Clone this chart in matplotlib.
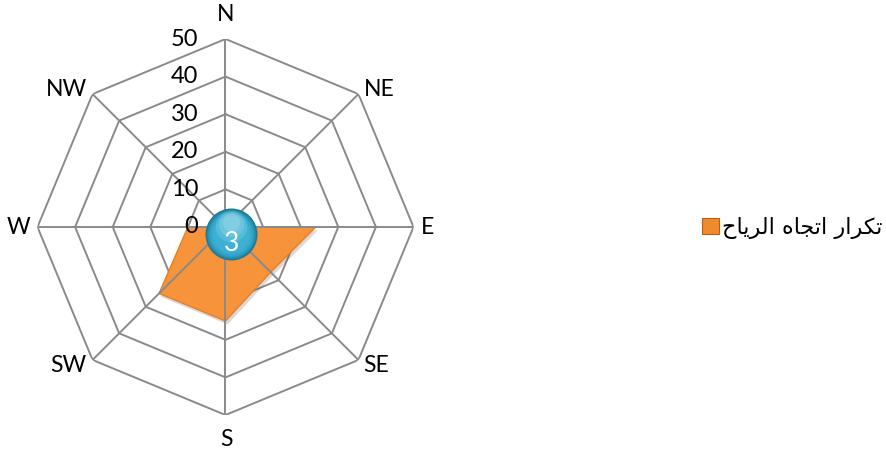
import matplotlib.pyplot as plt
import matplotlib.patheffects as pe
from matplotlib.patches import Patch
from matplotlib.transforms import offset_copy
import numpy as np

# wind direction frequency (radar chart)
directions = ["N", "NE", "E", "SE", "S", "SW", "W", "NW"]
frequency = [3, 0, 24, 17, 25, 25, 10, 0]
ring_values = [0, 10, 20, 30, 40, 50]
series_name = "تكرار اتجاه الرياح"

# matplotlib has no Arabic shaping, so write the joined letter forms in display order
shaped = {
    "تكرار": "\uFE97\uFEDC\uFEAE\uFE8D\uFEAD",
    "اتجاه": "\uFE8D\uFE97\uFEA0\uFE8E\uFEE9",
    "الرياح": "\uFE8D\uFEDF\uFEAE\uFEF3\uFE8E\uFEA1",
}
legend_label = " ".join(shaped[w] for w in series_name.split())[::-1]

W, H = 887, 451
fig = plt.figure(figsize=(W / 100, H / 100), dpi=100)
fig.patch.set_facecolor("white")

cx, cy, R = 225.5, 227, 188
ax = fig.add_axes([(cx - R) / W, (H - cy - R) / H, 2 * R / W, 2 * R / H],
                  projection="polar")
ax.set_theta_zero_location("N")
ax.set_theta_direction(-1)
ax.set_ylim(0, 50)
ax.grid(False)
ax.spines["polar"].set_visible(False)
ax.set_xticks([])
ax.set_yticks([])
ax.patch.set_alpha(0)

theta = np.linspace(0, 2 * np.pi, len(directions), endpoint=False)
closed = np.append(theta, theta[0])
grid_col = "#8a8a8a"

# octagon rings
for r in ring_values[1:]:
    ax.plot(closed, [r] * len(closed), color=grid_col, lw=1.4, zorder=1)

# series polygon
vals = np.append(frequency, frequency[0])
ax.fill(closed, vals, color="#f7933a", ec="#e58028", lw=1.0, zorder=2,
        path_effects=[pe.SimplePatchShadow(offset=(1.5, -2.5), alpha=0.18),
                      pe.Normal()])

# spokes on top
for t in theta:
    ax.plot([t, t], [0, 50], color=grid_col, lw=1.4, zorder=3)

# radial values along the N spoke
for r in ring_values:
    tr = offset_copy(ax.transData, fig=fig, x=-27, y=0, units="dots")
    ax.text(0, r, str(r), transform=tr, ha="right", va="center",
            fontsize=17, family="Lato", color="black", zorder=6)

# direction labels
label_pos = [(0.5, -212.5), (153.5, -137), (202, 0), (150.5, 138),
             (0.5, 212.5), (-157, 138), (-206.5, 0), (-158.5, -137)]
for name, (dx, dy) in zip(directions, label_pos):
    fig.text((cx + dx) / W, 1 - (cy + dy) / H, name, ha="center", va="center",
             fontsize=16.5, family="Lato", color="black")

# value callout bubble for the N point
base = offset_copy(ax.transData, fig=fig, x=6, y=-18, units="dots")
shades = ["#1c7896", "#228aab", "#2a99bc", "#32a4c7", "#38abcd", "#3eb1d2"]
sizes = np.linspace(1400, 700, len(shades))
for c, s in zip(shades, sizes):
    ax.scatter([0], [frequency[0]], s=s, color=c, lw=0, transform=base,
               zorder=7, clip_on=False)
for dy, s, a in [(-10, 520, 0.18), (-8, 330, 0.22), (-6, 160, 0.25)]:
    hl = offset_copy(ax.transData, fig=fig, x=6, y=dy, units="dots")
    ax.scatter([0], [frequency[0]], s=s, color="#bdeaf6", alpha=a, lw=0,
               transform=hl, zorder=8, clip_on=False)
txt = offset_copy(ax.transData, fig=fig, x=6, y=-28, units="dots")
ax.text(0, frequency[0], str(frequency[0]), transform=txt, ha="center",
        va="center", fontsize=19, family="Lato", color="white", zorder=9)

# legend
handle = Patch(facecolor="#f08a2c", edgecolor="#b85f12", lw=0.8)
fig.legend([handle], [legend_label], loc="center left",
           bbox_to_anchor=(702 / W, 1 - 228 / H), frameon=False,
           handlelength=0.75, handleheight=0.75, handletextpad=0.15,
           borderpad=0, borderaxespad=0,
           prop={"family": "DejaVu Sans", "size": 16})

fig.savefig("out.png", dpi=100, facecolor="white")
